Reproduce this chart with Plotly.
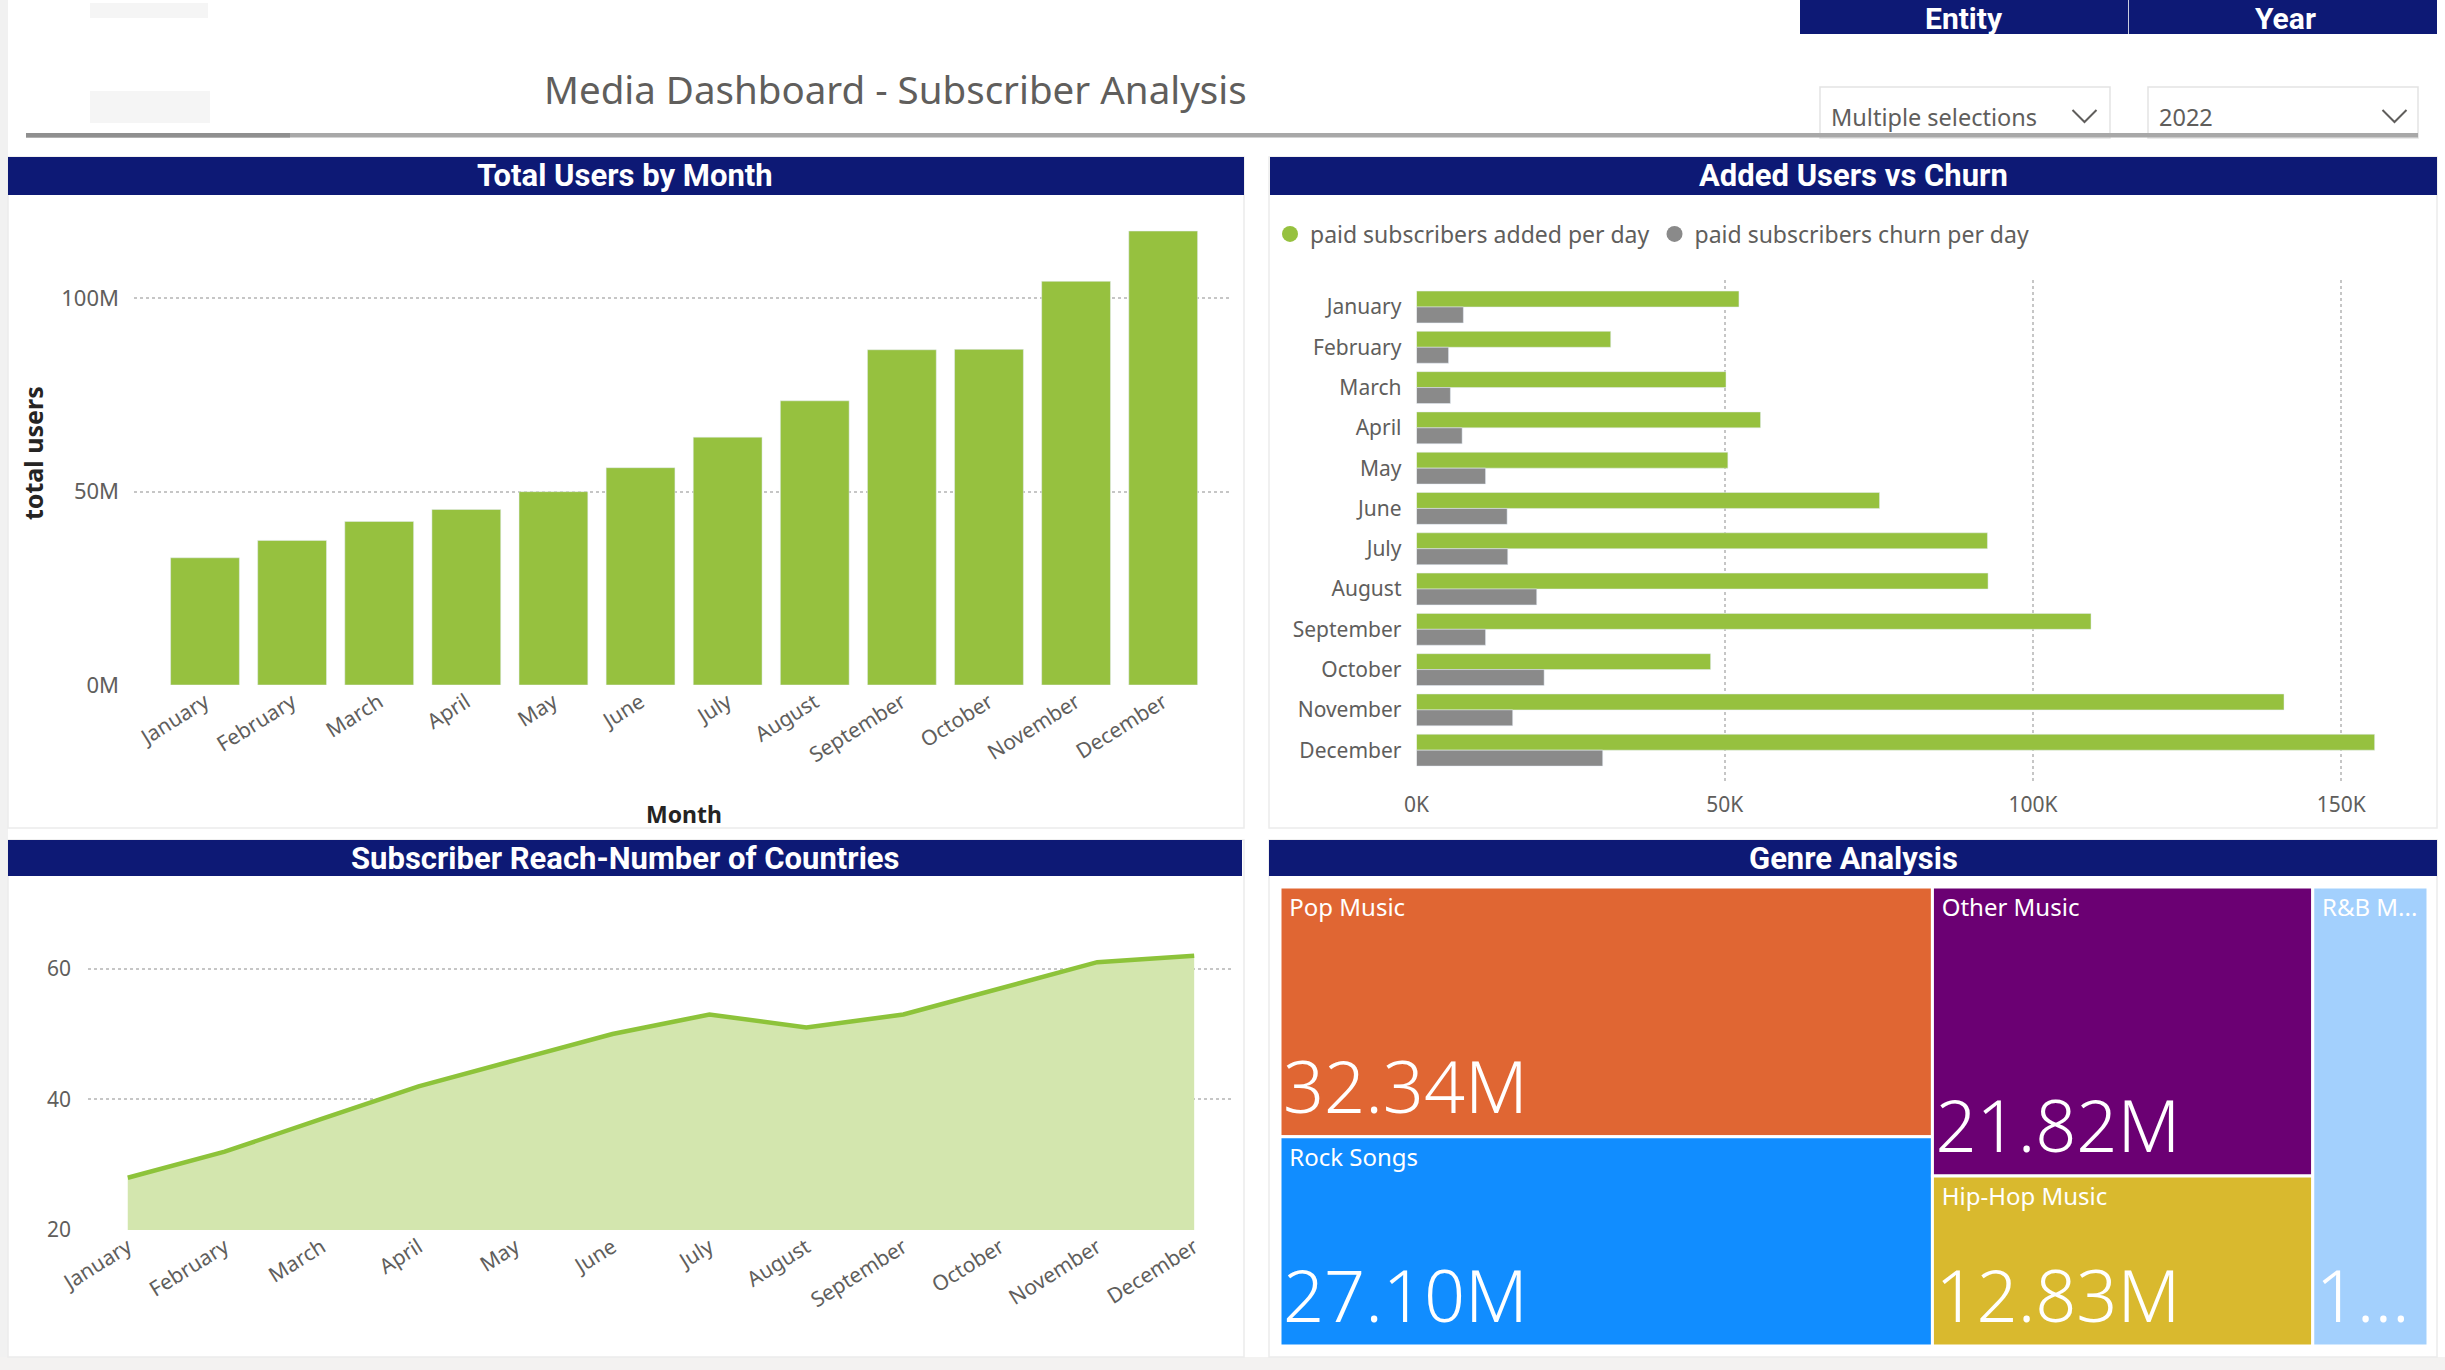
import plotly.graph_objects as go

W, H = 2445, 1370


def px(x):
    return x / W


def py(y):
    return 1 - y / H


# ---------------- data ----------------
months = ["January", "February", "March", "April", "May", "June", "July",
          "August", "September", "October", "November", "December"]
total_users_m = [32.9, 37.4, 42.3, 45.4, 50.0, 56.2, 64.1, 73.5, 86.7, 86.8, 104.4, 117.4]
added_k = [52.3, 31.5, 50.2, 55.8, 50.5, 75.1, 92.6, 92.7, 109.4, 47.7, 140.7, 155.4]
churn_k = [7.6, 5.2, 5.5, 7.4, 11.2, 14.7, 14.8, 19.5, 11.2, 20.7, 15.6, 30.2]
countries = [28, 32, 37, 42, 46, 50, 53, 51, 53, 57, 61, 62]
genres = ["Pop Music", "Rock Songs", "Other Music", "Hip-Hop Music", "R&B Music"]
genre_users_m = [32.34, 27.10, 21.82, 12.83, 10.5]
users_ticks = [0, 50, 100]
added_ticks = [0, 50, 100, 150]
country_ticks = [20, 40, 60]

# ---------------- styles ----------------
FONT = "Segoe UI, Noto Sans, sans-serif"
HFONT = "DIN, Roboto, sans-serif"
NAVY = "#0D1975"
GREEN = "#96C13F"
LINE_GREEN = "#8DC33A"
FILL_GREEN = "#D3E6AE"
GRAY_BAR = "#8A8A8A"
TXT = "#605E5C"
DARK = "#252423"
GRID = "#C6C6C6"
genre_colors = ["#E06633", "#118DFF", "#6B0073", "#D9B92E", "#A3D0FD"]

fig = go.Figure()

# Chart 1: total users by month
fig.add_trace(go.Bar(x=months, y=[v * 1e6 for v in total_users_m], marker_color=GREEN,
                     showlegend=False, xaxis="x", yaxis="y", name="total users"))

# Chart 2: added vs churn
fig.add_trace(go.Bar(y=months, x=[v * 1e3 for v in added_k], orientation="h", marker_color=GREEN,
                     showlegend=False, xaxis="x2", yaxis="y2", name="paid subscribers added per day"))
fig.add_trace(go.Bar(y=months, x=[v * 1e3 for v in churn_k], orientation="h", marker_color=GRAY_BAR,
                     showlegend=False, xaxis="x2", yaxis="y2", name="paid subscribers churn per day"))
for nm, col in [("paid subscribers added per day", GREEN), ("paid subscribers churn per day", GRAY_BAR)]:
    fig.add_trace(go.Scatter(x=[None], y=[None], mode="markers", name=nm,
                             marker=dict(symbol="circle", size=16, color=col),
                             xaxis="x2", yaxis="y2", showlegend=True))

# Chart 3: number of countries
fig.add_trace(go.Scatter(x=months, y=countries, mode="lines", fill="tozeroy",
                         line=dict(color=LINE_GREEN, width=4.5), fillcolor=FILL_GREEN,
                         showlegend=False, xaxis="x3", yaxis="y3", name="countries"))

# Chart 4: treemap (two identical tilings: names on top, values at bottom)
label_text = list(genres)
label_text[-1] = label_text[-1][:5] + "..."
val_text = [f"{v:.2f}M" for v in genre_users_m]
val_text[-1] = val_text[-1][:1] + "..."
tm_domain = dict(x=[px(1280), px(2428)], y=[py(1346), py(887)])
common = dict(labels=genres, parents=[""] * len(genres), values=genre_users_m,
              tiling=dict(packing="squarify", squarifyratio=2, pad=0),
              pathbar=dict(visible=False), sort=True, domain=tm_domain)
fig.add_trace(go.Treemap(**common, text=label_text, texttemplate="\u00a0%{text}",
                         textposition="top left",
                         marker=dict(colors=genre_colors, line=dict(color="white", width=3),
                                     pad=dict(t=0, l=0, r=0, b=0)),
                         textfont=dict(family=FONT, size=24, color="white"),
                         hoverinfo="label+value"))
fig.add_trace(go.Treemap(**common, text=val_text, texttemplate="%{text}",
                         textposition="bottom left",
                         marker=dict(colors=["rgba(0,0,0,0)"] * len(genres),
                                     line=dict(color="rgba(0,0,0,0)", width=3),
                                     pad=dict(t=0, l=0, r=0, b=0)),
                         textfont=dict(family=FONT, size=72, color="white", weight=300),
                         hoverinfo="skip"))

tickfont = dict(family=FONT, size=21, color=TXT)

fig.update_layout(
    width=W, height=H, autosize=False,
    margin=dict(l=0, r=0, t=0, b=0, pad=0, autoexpand=False),
    paper_bgcolor="white", plot_bgcolor="rgba(0,0,0,0)",
    bargap=0.21, bargroupgap=0, barmode="group",
    font=dict(family=FONT, color=TXT),
    xaxis=dict(domain=[px(134), px(1232)], anchor="y", type="category",
               range=[-0.815, 11.79], tickangle=-32, tickfont=tickfont,
               showgrid=False, zeroline=False, showline=False, ticks="", automargin=False),
    yaxis=dict(domain=[py(685), py(221)], anchor="x", range=[0, 1.2e8],
               tickvals=[v * 1e6 for v in users_ticks], ticktext=[f"{v}M" for v in users_ticks],
               tickfont=dict(family=FONT, size=22, color=TXT), showgrid=True, gridcolor=GRID,
               griddash="dot", gridwidth=1.5,
               zeroline=False, showline=False, ticks="", ticklabelstandoff=14, automargin=False),
    xaxis2=dict(domain=[px(1416.5), px(2403)], anchor="y2", range=[0, 160000],
                tickvals=[v * 1e3 for v in added_ticks], ticktext=[f"{v}K" for v in added_ticks],
                tickfont=tickfont, showgrid=True, gridcolor=GRID, griddash="dot", gridwidth=1.5,
                zeroline=False, showline=False, ticks="", ticklabelstandoff=8, automargin=False),
    yaxis2=dict(domain=[py(782), py(280)], anchor="x2", type="category",
                range=[11.79, -0.67], tickfont=tickfont, showgrid=False, zeroline=False,
                showline=False, ticks="", ticklabelstandoff=14, automargin=False),
    xaxis3=dict(domain=[px(88), px(1232)], anchor="y3", type="category",
                range=[-0.41, 11.39], tickangle=-32, tickfont=tickfont,
                showgrid=False, zeroline=False, showline=False, ticks="", automargin=False),
    yaxis3=dict(domain=[py(1230), py(923)], anchor="x3", range=[20, 67],
                tickvals=country_ticks, tickfont=tickfont, showgrid=True, gridcolor=GRID,
                griddash="dot", gridwidth=1.5, zeroline=False, showline=False, ticks="",
                ticklabelstandoff=16, automargin=False),
    legend=dict(x=px(1270), y=py(234), xanchor="left", yanchor="middle", orientation="h",
                font=dict(family=FONT, size=23, color=TXT), itemwidth=30,
                bgcolor="rgba(0,0,0,0)", borderwidth=0),
)


def rect(x0, y0, x1, y1, fill, line=None, lw=0, layer="below"):
    return dict(type="rect", xref="paper", yref="paper", x0=px(x0), x1=px(x1), y0=py(y1), y1=py(y0),
                fillcolor=fill, line=dict(color=line or "rgba(0,0,0,0)", width=lw), layer=layer)


shapes = [
    rect(0, 0, 8, 1370, "#F1F1F1"),
    rect(0, 1357, 2445, 1370, "#F3F2F1"),
    rect(90, 3, 208, 18, "#F5F5F5"),
    rect(90, 91, 210, 123, "#F5F5F5"),
    # panel outlines
    rect(8, 157, 1244, 828, "white", "#ECECEC", 1.5),
    rect(1269, 157, 2437, 828, "white", "#ECECEC", 1.5),
    rect(8, 840, 1244, 1357, "white", "#ECECEC", 1.5),
    rect(1269, 840, 2437, 1357, "white", "#ECECEC", 1.5),
    # slicers
    rect(1800, 0, 2437, 34, NAVY, layer="above"),
    dict(type="line", xref="paper", yref="paper", x0=px(2128.5), x1=px(2128.5), y0=py(34), y1=py(0),
         line=dict(color="#C9CCE0", width=1)),
    rect(1820, 87, 2110, 138, "white", "#E3E3E3", 1.5, layer="above"),
    rect(2148, 87, 2418, 138, "white", "#E3E3E3", 1.5, layer="above"),
    # title underline
    rect(26, 133, 2418, 137.5, "#A8A8A8", layer="above"),
    rect(26, 133, 290, 137.5, "#8F8F8F", layer="above"),
    # panel header bars
    rect(8, 157, 1244, 195, NAVY, layer="above"),
    rect(1270, 157, 2437, 195, NAVY, layer="above"),
    rect(8, 840, 1242, 876, NAVY, layer="above"),
    rect(1269, 840, 2437, 876, NAVY, layer="above"),
]
for cx in (2084.5, 2394.5):
    shapes.append(dict(type="path", xref="paper", yref="paper",
                       path=f"M {px(cx - 12)} {py(110)} L {px(cx)} {py(122)} L {px(cx + 12)} {py(110)}",
                       line=dict(color=TXT, width=2), layer="above"))
fig.update_layout(shapes=shapes)


def ann(text, x, y, size, color=TXT, xanchor="center", yanchor="middle", family=FONT, weight=None, angle=0):
    f = dict(family=family, size=size, color=color)
    if weight:
        f["weight"] = weight
    return dict(text=text, x=px(x), y=py(y), xref="paper", yref="paper", xanchor=xanchor,
                yanchor=yanchor, showarrow=False, font=f, textangle=angle)


annotations = [
    ann("Media Dashboard - Subscriber Analysis", 895, 89, 38.5),
    ann("Entity", 1964.5, 18, 30, "white", family=HFONT, weight="bold"),
    ann("Year", 2285.5, 18, 30, "white", family=HFONT, weight="bold"),
    ann("Multiple selections", 1829, 117, 23.5, xanchor="left"),
    ann("2022", 2157, 117, 23.5, xanchor="left"),
    ann("Total Users by Month", 625, 176, 31, "white", family=HFONT, weight="bold"),
    ann("Added Users vs Churn", 1853, 176, 31, "white", family=HFONT, weight="bold"),
    ann("Subscriber Reach-Number of Countries", 625, 858, 31, "white", family=HFONT, weight="bold"),
    ann("Genre Analysis", 1853, 858, 31, "white", family=HFONT, weight="bold"),
    ann("total users", 33, 453, 25, DARK, weight="bold", angle=-90),
    ann("Month", 684, 814, 23, DARK, weight="bold"),
]
fig.update_layout(annotations=annotations)

fig.write_html("out.html", config={"displayModeBar": False},
               post_script="document.body.style.margin='0px';")
